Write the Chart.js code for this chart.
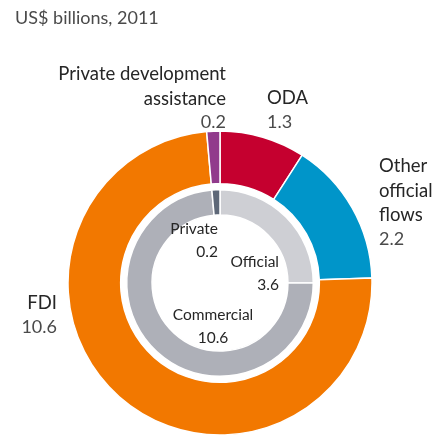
<!DOCTYPE html>
<html>
<head>
<meta charset="utf-8">
<script src="https://cdn.jsdelivr.net/npm/chart.js@4/dist/chart.umd.min.js"></script>
<style>
html,body{margin:0;padding:0;background:#fff;}
#wrap{position:relative;width:445px;height:436px;}
</style>
</head>
<body>
<div id="wrap"><canvas id="c"></canvas></div>
<script>
// ---- Data ----
const titleText = "US$ billions, 2011";
const outerCategories = ["ODA", "Other official flows", "FDI", "Private development assistance"];
const outerValues = [1.3, 2.2, 10.6, 0.2];
const outerColors = ["#C5002F", "#0095C9", "#F27800", "#913A8C"];
const innerCategories = ["Official", "Commercial", "Private"];
const innerValues = [3.6, 10.6, 0.2];
const innerColors = ["#CECFD4", "#AEB0B8", "#5E6878"];

// Label layout (text lines, anchor, alignment) kept separate from data
const outerLabelLines = [["ODA"], ["Other", "official", "flows"], ["FDI"], ["Private development", "assistance"]];
const outerLabelPos = [
  {x: 267, y: 104, align: "left"},
  {x: 379, y: 172, align: "left"},
  {x: 57,  y: 309, align: "right"},
  {x: 226, y: 80,  align: "right"}
];
const innerLabelPos = [
  {x: 279, y: 267, align: "right"},
  {x: 213, y: 320, align: "center"},
  {x: 218, y: 234, align: "right"}
];

const FONT = "Lato";
const labelPlugin = {
  id: "labels",
  afterDraw(chart) {
    const ctx = chart.ctx;
    ctx.save();
    ctx.textBaseline = "alphabetic";
    // title
    ctx.font = "18px " + FONT;
    ctx.fillStyle = "#4a4a4a";
    ctx.textAlign = "left";
    ctx.fillText(titleText, 15, 24);
    // outer labels
    const lh = 24.5;
    outerLabelLines.forEach((lines, i) => {
      const p = outerLabelPos[i];
      ctx.textAlign = p.align;
      ctx.font = "18.5px " + FONT;
      ctx.fillStyle = "#262626";
      lines.forEach((t, k) => ctx.fillText(t, p.x, p.y + k * lh));
      ctx.font = "18px " + FONT;
      ctx.fillStyle = "#4a4a4a";
      ctx.fillText(outerValues[i].toFixed(1), p.x, p.y + lines.length * lh - 1);
    });
    // inner labels
    innerCategories.forEach((name, i) => {
      const p = innerLabelPos[i];
      ctx.textAlign = p.align;
      ctx.font = "15.5px " + FONT;
      ctx.fillStyle = "#262626";
      ctx.fillText(name, p.x, p.y);
      ctx.fillText(innerValues[i].toFixed(1), p.x, p.y + 22.5);
    });
    ctx.restore();
  }
};

new Chart(document.getElementById("c"), {
  type: "doughnut",
  data: {
    labels: outerCategories,
    datasets: [
      {label: "Outer", data: outerValues, backgroundColor: outerColors, borderColor: "#ffffff", borderWidth: 1.5, weight: 52},
      {label: "gap", data: [1], backgroundColor: ["rgba(0,0,0,0)"], borderWidth: 0, weight: 6},
      {label: "Inner", data: innerValues, backgroundColor: innerColors, borderColor: "#ffffff", borderWidth: 1.5, weight: 25}
    ]
  },
  options: {
    responsive: true,
    maintainAspectRatio: false,
    animation: false,
    events: [],
    radius: 152,
    cutout: "44.7%",
    rotation: 0,
    layout: {padding: {left: 68, right: 73, top: 131, bottom: 1}},
    plugins: {legend: {display: false}, tooltip: {enabled: false}, title: {display: false}}
  },
  plugins: [labelPlugin]
});
</script>
</body>
</html>
